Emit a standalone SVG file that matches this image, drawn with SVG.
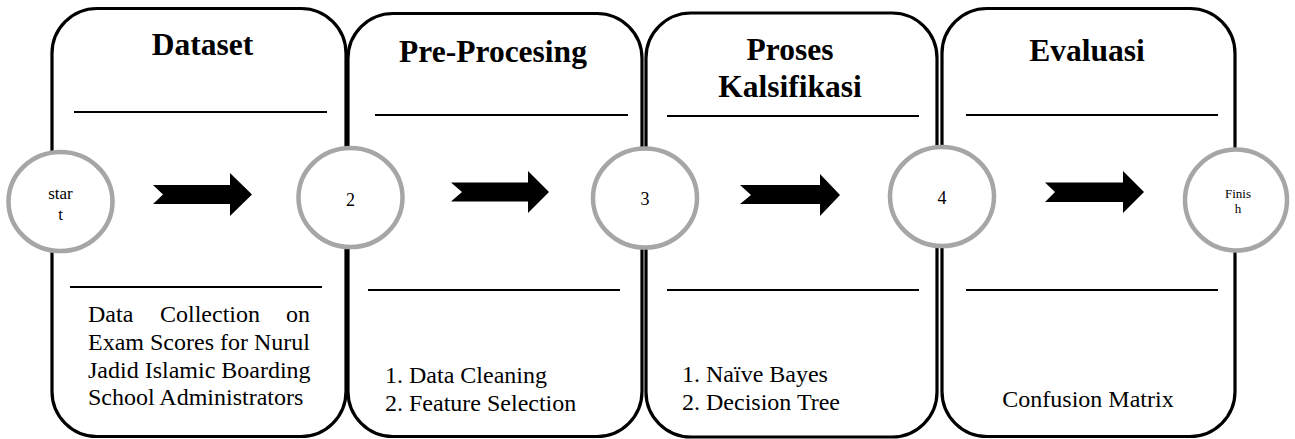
<svg xmlns="http://www.w3.org/2000/svg" width="1295" height="439" viewBox="0 0 1295 439">
<style>
.box{fill:#fff;stroke:#000;stroke-width:3.2}
.sep{stroke:#000;stroke-width:2}
.title{font-family:"Liberation Serif",serif;font-weight:bold;font-size:31.5px;text-anchor:middle;fill:#000}
.body{font-family:"Liberation Serif",serif;font-size:24px;fill:#000}
.circ{fill:#fff;stroke:#a6a6a6;stroke-width:4.5}
.ctext{font-family:"Liberation Serif",serif;text-anchor:middle;fill:#000}
.arrow{fill:#000}
</style>
<rect width="1295" height="439" fill="#fff"/>
<g id="stage-dataset">
<rect class="box" x="52" y="8.5" width="294" height="428" rx="45"/>
<text class="title" x="202.5" y="55">Dataset</text>
<line class="sep" x1="74" y1="112" x2="327" y2="112"/>
<line class="sep" x1="70" y1="287" x2="322" y2="287"/>
<text class="body" x="88" y="322">Data</text>
<text class="body" x="160" y="322">Collection</text>
<text class="body" x="310" y="322" text-anchor="end">on</text>
<text class="body" x="88" y="350">Exam Scores for Nurul</text>
<text class="body" x="88" y="378">Jadid Islamic Boarding</text>
<text class="body" x="88" y="405">School Administrators</text>
</g>
<g id="stage-preprocessing">
<rect class="box" x="348" y="13.5" width="294" height="423" rx="45"/>
<text class="title" x="493" y="62">Pre-Procesing</text>
<line class="sep" x1="375" y1="115" x2="628" y2="115"/>
<line class="sep" x1="368" y1="290" x2="620" y2="290"/>
<text class="body" x="385" y="383">1. Data Cleaning</text>
<text class="body" x="385" y="411">2. Feature Selection</text>
</g>
<g id="stage-klasifikasi">
<rect class="box" x="646" y="13" width="291" height="424" rx="45"/>
<text class="title" x="790" y="60">Proses</text>
<text class="title" x="790" y="96.5">Kalsifikasi</text>
<line class="sep" x1="667" y1="116" x2="919" y2="116"/>
<line class="sep" x1="667" y1="290" x2="919" y2="290"/>
<text class="body" x="682" y="382">1. Naïve Bayes</text>
<text class="body" x="682" y="410">2. Decision Tree</text>
</g>
<g id="stage-evaluasi">
<rect class="box" x="942" y="8.5" width="293" height="428" rx="45"/>
<text class="title" x="1087" y="60.5">Evaluasi</text>
<line class="sep" x1="966" y1="115" x2="1218" y2="115"/>
<line class="sep" x1="966" y1="290" x2="1218" y2="290"/>
<text class="body" x="1088" y="407" text-anchor="middle">Confusion Matrix</text>
</g>
<g id="node-start">
<ellipse class="circ" cx="60.5" cy="201.5" rx="52" ry="49.5"/>
<text class="ctext" x="60.5" y="198.5" font-size="17">star</text>
<text class="ctext" x="60.5" y="220" font-size="17">t</text>
</g>
<g id="node-2">
<ellipse class="circ" cx="350.5" cy="197.5" rx="52" ry="49.5"/>
<text class="ctext" x="350.5" y="205.5" font-size="18">2</text>
</g>
<g id="node-3">
<ellipse class="circ" cx="645" cy="198" rx="52" ry="49.5"/>
<text class="ctext" x="645" y="205" font-size="18">3</text>
</g>
<g id="node-4">
<ellipse class="circ" cx="942" cy="196.5" rx="52" ry="49.5"/>
<text class="ctext" x="942" y="204" font-size="18">4</text>
</g>
<g id="node-finish">
<ellipse class="circ" cx="1236" cy="200" rx="51" ry="50.5"/>
<text class="ctext" x="1238" y="197.5" font-size="13">Finis</text>
<text class="ctext" x="1238" y="213" font-size="13">h</text>
</g>
<g id="connectors">
<polygon class="arrow" points="153,185 230,185 230,173 252,194.5 230,216 230,204 153,204 163,194.5"/>
<polygon class="arrow" points="451,182.5 528,182.5 528,171 549,192 528,213 528,201.5 451,201.5 462,192"/>
<polygon class="arrow" points="740,185 820,185 820,174 840,195 820,216 820,204 740,204 751,195"/>
<polygon class="arrow" points="1045,182.5 1123,182.5 1123,171 1144,192 1123,213 1123,202 1045,202 1055,192"/>
</g>
</svg>
